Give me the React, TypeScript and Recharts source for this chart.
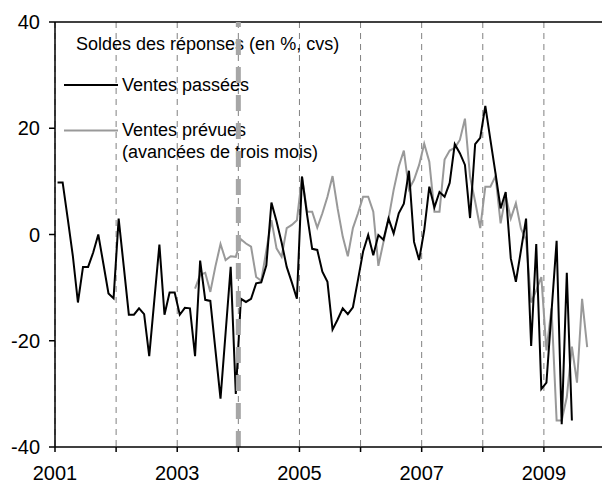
import React from 'react';
import {
  LineChart,
  Line,
  XAxis,
  YAxis,
  CartesianGrid,
  ReferenceLine,
  Customized
} from 'recharts';

// monthly balances, first value = January 2001
const ventesPassees = [
  9.8, 9.8, 3, -4, -12.8, -6.1, -6.1, -3.4, 0, -5.5, -11.1, -12,
  3, -6, -15.1, -15.1, -13.9, -15, -22.9, -12.4, -1.9, -15.1, -10.9, -10.9,
  -15.1, -13.8, -13.9, -22.9, -4.9, -12.3, -12.5, -21.7, -30.9, -18.5, -6.1, -30,
  -12.1, -12.7, -12.1, -9.2, -9, -5.8, 6, 2.5, -1.5, -6.1, -9, -12.1,
  10.9, 3.7, -2.7, -2.9, -7, -8.9, -17.9, -16, -13.9, -15, -13.7, -8.5,
  -3.2, -0.1, -3.9, -0.1, -1, 3, 0.2, 4, 5.8, 12, -1.4, -4.8,
  0.8, 9, 5.1, 8, 7.1, 9.7, 17, 15.3, 13.1, 3.1, 17, 18.2,
  24.2, 17.8, 11.5, 4.9, 8, -4.5, -8.9, -3, 3, -21, -1.8, -29.1,
  -27.9, -14.5, -1.2, -35.7, -7.2, -35
];

// expected sales, shifted three months ahead; starts April 2003
const prevuesStart = 27;
const ventesPrevues = [
  -10.2, -7.6, -7.2, -10.8, -6, -1.8, -4.8, -4.1, -4.2,
  -0.9, -1.7, -2.3, -8, -8.7, -3, 2.7, -2.6, -4.2, 1.2, 1.8, 2.7,
  10.9, 4.3, 4.3, 1.3, 4, 7.1, 11, 4.9, -0.4, -4.1, 1.2, 4,
  7.1, 7.1, 4.3, -5.9, -1.4, 3, 8.4, 12.8, 15.8, 8.5, 10.3, 13.1,
  17.1, 13.7, 4.3, 4.3, 14.1, 15.8, 16.3, 17.8, 21.8, 10.9, 6.2, 1.2,
  9, 9, 11, 2.1, 7.3, 3, 5.9, 1.1, -1, -12.8, -10.5, -8,
  -21.8, -13.9, -35, -35, -30.6, -21.1, -27.9, -12.1, -21.2
];

const yearTicks = [2001, 2002, 2003, 2004, 2005, 2006, 2007, 2008, 2009];
const valueTicks = [-40, -20, 0, 20, 40];

const nMonths = prevuesStart + ventesPrevues.length;
const data = Array.from({ length: nMonths }, (_, k) => ({
  t: 2001 + (k + 0.5) / 12,
  passees: k < ventesPassees.length ? ventesPassees[k] : null,
  prevues: k >= prevuesStart ? ventesPrevues[k - prevuesStart] : null
}));

const font = '"Liberation Sans", Arial, sans-serif';

function LegendBox() {
  const ts = { fontFamily: font, fontSize: 18, fill: '#000' };
  return (
    <g>
      <text x={76} y={50} {...ts}>Soldes des réponses (en %, cvs)</text>
      <line x1={64} x2={118} y1={85} y2={85} stroke="#000" strokeWidth={2} />
      <text x={122} y={91} {...ts}>Ventes passées</text>
      <line x1={64} x2={118} y1={130.5} y2={130.5} stroke="#999" strokeWidth={2} />
      <text x={122} y={136} {...ts}>Ventes prévues</text>
      <text x={122} y={157.5} {...ts}>(avancées de trois mois)</text>
    </g>
  );
}

export default function App() {
  const tick = { fontFamily: font, fontSize: 20, fill: '#000' };
  return (
    <div style={{ position: 'absolute', left: 0, top: 0, width: 602, height: 485, overflow: 'hidden', background: '#fff' }}>
      <LineChart width={605} height={485} data={data} margin={{ top: 22, right: 0, bottom: 0, left: 0 }}>
        <CartesianGrid horizontal={false} stroke="#808080" strokeDasharray="6 5" />
        <Customized component={LegendBox} />
        <XAxis
          type="number"
          dataKey="t"
          domain={[2001, 2010]}
          ticks={yearTicks}
          tickFormatter={(v: number) => (v % 2 === 1 ? String(v) : '')}
          height={38}
          tickSize={5}
          tickMargin={14}
          tick={tick}
          axisLine={{ stroke: '#000', strokeWidth: 1.5 }}
          tickLine={{ stroke: '#000', strokeWidth: 1.5 }}
          allowDataOverflow
        />
        <YAxis
          domain={[-40, 40]}
          ticks={valueTicks}
          width={55}
          tickSize={6}
          tickMargin={9}
          tick={tick}
          axisLine={{ stroke: '#000', strokeWidth: 1.5 }}
          tickLine={{ stroke: '#000', strokeWidth: 1.5 }}
        />
        <ReferenceLine y={40} stroke="#000" strokeWidth={1.5} />
        <Line
          type="linear"
          dataKey="prevues"
          stroke="#999"
          strokeWidth={2}
          dot={false}
          connectNulls={false}
          isAnimationActive={false}
        />
        <Line
          type="linear"
          dataKey="passees"
          stroke="#000"
          strokeWidth={2}
          dot={false}
          connectNulls={false}
          isAnimationActive={false}
        />
        <ReferenceLine x={2004} stroke="#a6a6a6" strokeWidth={5} strokeDasharray="16 12" />
      </LineChart>
    </div>
  );
}
